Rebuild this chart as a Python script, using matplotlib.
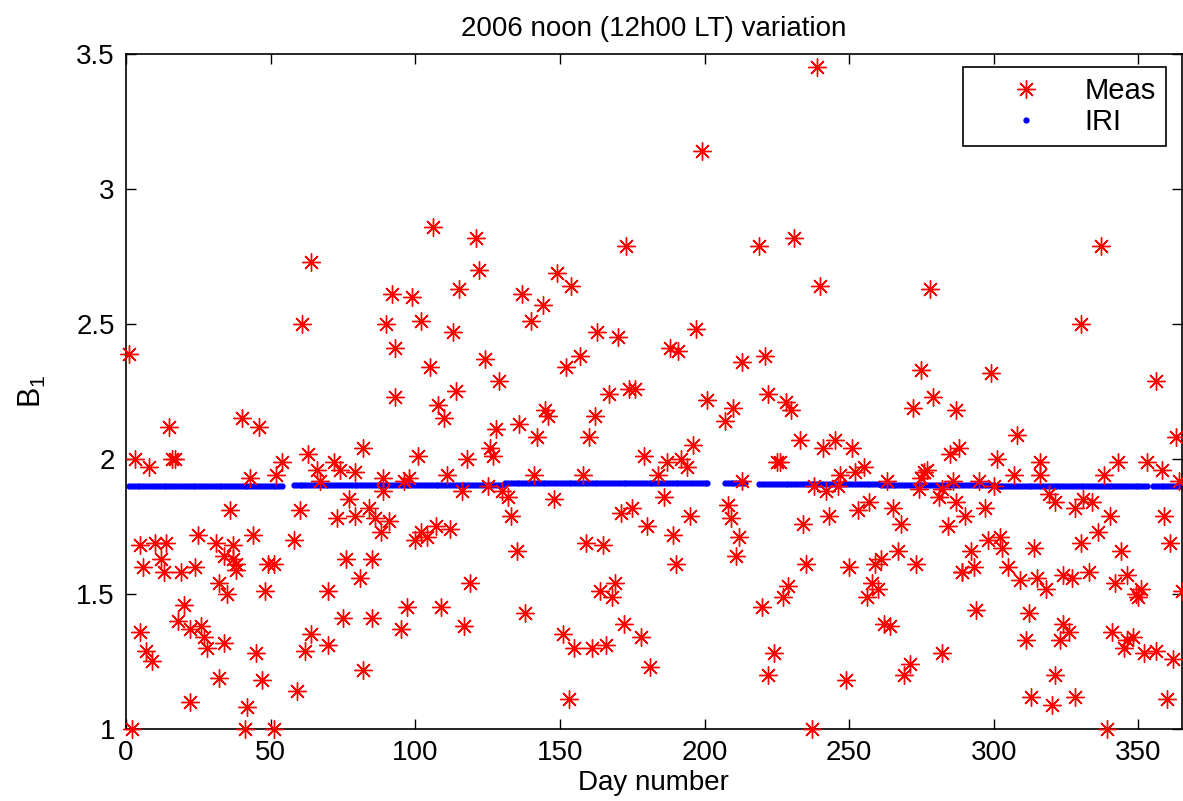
import numpy as np
import matplotlib
matplotlib.use('Agg')
import matplotlib.pyplot as plt
from matplotlib.ticker import FuncFormatter

plt.rcParams['font.family'] = ['Liberation Sans', 'DejaVu Sans']
plt.rcParams['mathtext.fontset'] = 'custom'
plt.rcParams['mathtext.rm'] = 'Liberation Sans'
plt.rcParams['mathtext.it'] = 'Liberation Sans'

# measured B1 at noon (day number, value)
meas_day = [
    1, 2, 3, 5, 5, 6, 7, 8, 9, 10, 12, 13, 14, 15, 16, 17, 18, 19, 20, 22,
    22, 24, 25, 26, 27, 28, 31, 32, 32, 34, 34, 35, 36, 37, 37, 38, 38, 40, 41, 42,
    43, 44, 45, 46, 47, 48, 49, 51, 51, 52, 54, 58, 59, 60, 61, 62, 63, 64, 64, 66,
    67, 70, 70, 72, 73, 74, 75, 76, 77, 79, 79, 81, 82, 82, 84, 85, 85, 86, 88, 89,
    89, 90, 91, 92, 93, 93, 95, 96, 97, 98,
    99, 100, 101, 102, 102, 104, 105, 106, 107, 108, 109, 110, 111, 112, 113, 114, 115, 116, 117, 118,
    119, 121, 122, 124, 125, 126, 127, 128, 129, 130, 132, 133, 135, 136, 137, 138, 140, 141, 142, 144,
    145, 146, 148, 149, 151, 152, 153, 154, 155, 157, 158, 159, 160, 161, 162, 163, 164, 165, 166, 167,
    168, 169, 170, 171, 172, 173, 174, 175, 176, 178, 179, 180, 181, 184, 186, 187, 188, 189, 190, 191,
    192, 194,
    195, 196, 197, 199, 201, 207, 208, 209, 210, 211, 212, 213, 213, 219, 220, 221, 222, 222, 224, 225,
    226, 227, 228, 229, 230, 231, 233, 234, 235, 237, 238, 239, 240, 241, 242, 243, 245, 246, 247, 249,
    250, 251, 252, 253, 255, 256, 257, 258, 259, 260, 261, 262, 263, 264, 265, 267, 268, 269, 271, 272,
    273, 274, 275, 275, 276, 277, 278, 279, 281, 282, 282, 284, 285, 286, 287, 287, 288, 289,
    290, 289, 292, 293, 294, 295, 297, 298, 299, 300, 301, 302, 303, 305, 307, 308, 309, 311, 312, 313,
    314, 315, 316, 316, 318, 319, 320, 321, 321, 323, 324, 324, 326, 327, 328, 328, 330, 330, 331, 333,
    334, 336, 337, 338, 339, 340, 341, 342, 343, 344, 345, 346, 346, 348, 349, 350, 351, 352, 353, 356,
    356, 358, 359, 360, 361, 362, 363, 364, 365,
]
meas_b1 = [
    2.39, 1.00, 2.00, 1.36, 1.68, 1.60, 1.29, 1.97, 1.25, 1.69, 1.63, 1.58, 1.69, 2.12, 2.00, 2.00, 1.40, 1.58, 1.46, 1.37,
    1.10, 1.60, 1.72, 1.38, 1.34, 1.30, 1.69, 1.54, 1.19, 1.64, 1.32, 1.50, 1.81, 1.63, 1.68, 1.61, 1.59, 2.15, 1.00, 1.08,
    1.93, 1.72, 1.28, 2.12, 1.18, 1.51, 1.61, 1.61, 1.00, 1.94, 1.99, 1.70, 1.14, 1.81, 2.50, 1.29, 2.02, 2.73, 1.35, 1.96,
    1.92, 1.31, 1.51, 1.99, 1.78, 1.96, 1.41, 1.63, 1.85, 1.95, 1.79, 1.56, 2.04, 1.22, 1.82, 1.63, 1.41, 1.78, 1.73, 1.93,
    1.88, 2.50, 1.77, 2.61, 2.41, 2.23, 1.37, 1.92, 1.45, 1.93,
    2.60, 1.70, 2.01, 2.51, 1.73, 1.71, 2.34, 2.86, 1.75, 2.20, 1.45, 2.15, 1.94, 1.74, 2.47, 2.25, 2.63, 1.88, 1.38, 2.00,
    1.54, 2.82, 2.70, 2.37, 1.90, 2.04, 2.01, 2.11, 2.29, 1.88, 1.86, 1.79, 1.66, 2.13, 2.61, 1.43, 2.51, 1.94, 2.08, 2.57,
    2.18, 2.16, 1.85, 2.69, 1.35, 2.34, 1.11, 2.64, 1.30, 2.38, 1.94, 1.69, 2.08, 1.30, 2.16, 2.47, 1.51, 1.68, 1.31, 2.24,
    1.49, 1.54, 2.45, 1.80, 1.39, 2.79, 2.26, 1.82, 2.26, 1.34, 2.01, 1.75, 1.23, 1.94, 1.86, 1.99, 2.41, 1.72, 1.61, 2.40,
    2.00, 1.97,
    1.79, 2.05, 2.48, 3.14, 2.22, 2.14, 1.83, 1.78, 2.19, 1.64, 1.71, 2.36, 1.92, 2.79, 1.45, 2.38, 2.24, 1.20, 1.28, 1.99,
    1.99, 1.49, 2.21, 1.53, 2.18, 2.82, 2.07, 1.76, 1.61, 1.00, 1.90, 3.45, 2.64, 2.04, 1.88, 1.79, 2.07, 1.90, 1.94, 1.18,
    1.60, 2.04, 1.95, 1.81, 1.97, 1.49, 1.84, 1.54, 1.61, 1.52, 1.63, 1.39, 1.92, 1.38, 1.82, 1.66, 1.76, 1.20, 1.24, 2.19,
    1.61, 1.89, 2.33, 1.93, 1.95, 1.96, 2.63, 2.23, 1.86, 1.28, 1.89, 1.75, 2.02, 1.92, 2.18, 1.84, 2.04, 1.58,
    1.79, 1.58, 1.66, 1.60, 1.44, 1.92, 1.82, 1.70, 2.32, 1.90, 2.00, 1.71, 1.67, 1.60, 1.94, 2.09, 1.55, 1.33, 1.43, 1.12,
    1.67, 1.56, 1.99, 1.94, 1.52, 1.87, 1.09, 1.84, 1.20, 1.33, 1.39, 1.57, 1.36, 1.56, 1.82, 1.12, 2.50, 1.69, 1.85, 1.58,
    1.84, 1.73, 2.79, 1.94, 1.00, 1.79, 1.36, 1.54, 1.99, 1.66, 1.30, 1.57, 1.33, 1.34, 1.50, 1.49, 1.52, 1.28, 1.99, 2.29,
    1.29, 1.96, 1.79, 1.11, 1.69, 1.26, 2.08, 1.92, 1.51,
]

# IRI model B1 (days with model output; gaps where no data)
iri_day = np.r_[1:55, 58:202, 207:215, 219:354, 355:366]
iri_b1 = [
    # days 1-54
    1.900, 1.900, 1.900, 1.900, 1.900, 1.900, 1.900, 1.900, 1.900, 1.900,
    1.900, 1.900, 1.900, 1.900, 1.900, 1.900, 1.900, 1.900, 1.900, 1.900,
    1.900, 1.900, 1.900, 1.900, 1.900, 1.900, 1.900, 1.900, 1.900, 1.900,
    1.900, 1.900, 1.900, 1.900, 1.900, 1.900, 1.900, 1.900, 1.900, 1.900,
    1.900, 1.900, 1.900, 1.900, 1.900, 1.900, 1.900, 1.900, 1.900, 1.900,
    1.900, 1.900, 1.900, 1.900,
    # days 58-90
    1.902, 1.902, 1.902, 1.902, 1.902, 1.902, 1.902, 1.902, 1.902, 1.902,
    1.902, 1.902, 1.902, 1.902, 1.902, 1.902, 1.902, 1.902, 1.902, 1.902,
    1.902, 1.902, 1.902, 1.902, 1.902, 1.902, 1.902, 1.902, 1.902, 1.902,
    1.902, 1.902, 1.902,
    # days 91-130
    1.905, 1.905, 1.905, 1.905, 1.905, 1.905, 1.905, 1.905, 1.905, 1.905,
    1.905, 1.905, 1.905, 1.905, 1.905, 1.905, 1.905, 1.905, 1.905, 1.905,
    1.905, 1.905, 1.905, 1.905, 1.905, 1.905, 1.905, 1.905, 1.905, 1.905,
    1.905, 1.905, 1.905, 1.905, 1.905, 1.905, 1.905, 1.905, 1.905, 1.905,
    # days 131-201
    1.910, 1.910, 1.910, 1.910, 1.910, 1.910, 1.910, 1.910, 1.910, 1.910,
    1.910, 1.910, 1.910, 1.910, 1.910, 1.910, 1.910, 1.910, 1.910, 1.910,
    1.910, 1.910, 1.910, 1.910, 1.910, 1.910, 1.910, 1.910, 1.910, 1.910,
    1.910, 1.910, 1.910, 1.910, 1.910, 1.910, 1.910, 1.910, 1.910, 1.910,
    1.910, 1.910, 1.910, 1.910, 1.910, 1.910, 1.910, 1.910, 1.910, 1.910,
    1.910, 1.910, 1.910, 1.910, 1.910, 1.910, 1.910, 1.910, 1.910, 1.910,
    1.910, 1.910, 1.910, 1.910, 1.910, 1.910, 1.910, 1.910, 1.910, 1.910,
    1.910,
    # days 207-214
    1.910, 1.910, 1.910, 1.910, 1.910, 1.910, 1.910, 1.910,
    # days 219-260
    1.908, 1.908, 1.908, 1.908, 1.908, 1.908, 1.908, 1.908, 1.908, 1.908,
    1.908, 1.908, 1.908, 1.908, 1.908, 1.908, 1.908, 1.908, 1.908, 1.908,
    1.908, 1.908, 1.908, 1.908, 1.908, 1.908, 1.908, 1.908, 1.908, 1.908,
    1.908, 1.908, 1.908, 1.908, 1.908, 1.908, 1.908, 1.908, 1.908, 1.908,
    1.908, 1.908,
    # days 261-300
    1.904, 1.904, 1.904, 1.904, 1.904, 1.904, 1.904, 1.904, 1.904, 1.904,
    1.904, 1.904, 1.904, 1.904, 1.904, 1.904, 1.904, 1.904, 1.904, 1.904,
    1.904, 1.904, 1.904, 1.904, 1.904, 1.904, 1.904, 1.904, 1.904, 1.904,
    1.904, 1.904, 1.904, 1.904, 1.904, 1.904, 1.904, 1.904, 1.904, 1.904,
    # days 301-353
    1.901, 1.901, 1.901, 1.901, 1.901, 1.901, 1.901, 1.901, 1.901, 1.901,
    1.901, 1.901, 1.901, 1.901, 1.901, 1.901, 1.901, 1.901, 1.901, 1.901,
    1.901, 1.901, 1.901, 1.901, 1.901, 1.901, 1.901, 1.901, 1.901, 1.901,
    1.901, 1.901, 1.901, 1.901, 1.901, 1.901, 1.901, 1.901, 1.901, 1.901,
    1.901, 1.901, 1.901, 1.901, 1.901, 1.901, 1.901, 1.901, 1.901, 1.901,
    1.901, 1.901, 1.901,
    # days 355-365
    1.900, 1.900, 1.900, 1.900, 1.900, 1.900, 1.900, 1.900, 1.900, 1.900,
    1.900,
]

xticks = [0, 50, 100, 150, 200, 250, 300, 350]
yticks = [1, 1.5, 2, 2.5, 3, 3.5]

fig = plt.figure(figsize=(11.83, 8.01), dpi=100)
ax = fig.add_axes([0.1065, 0.0899, 0.8925, 0.8427])

FS = 20
asterisk = (8, 2, 0)
ax.plot(meas_day, meas_b1, linestyle='none', marker=asterisk, ms=13, mew=1.0,
        color='red', mec='red', label='Meas', clip_on=False, zorder=3)
ax.plot(iri_day, iri_b1, linestyle='none', marker='.', ms=7,
        color='blue', label='IRI', zorder=2)

ax.set_xlim(0, 365)
ax.set_ylim(1, 3.5)
ax.set_xticks(xticks)
ax.set_yticks(yticks)
ax.yaxis.set_major_formatter(FuncFormatter(lambda v, p: '%g' % v))
ax.tick_params(direction='in', length=7, width=1.0, top=True, right=True,
               labelsize=FS, pad=8)
for s in ax.spines.values():
    s.set_linewidth(1.2)

ax.set_title('2006 noon (12h00 LT) variation', fontsize=FS, pad=13)
ax.set_xlabel('Day number', fontsize=FS, labelpad=3)
ax.set_ylabel(r'$\mathregular{B_1}$', fontsize=FS + 2, labelpad=20)

leg = ax.legend(loc='upper right', bbox_to_anchor=(0.985, 0.981), borderaxespad=0,
                fontsize=FS + 1, numpoints=1, handlelength=3.6, handletextpad=0.2,
                borderpad=0.35, labelspacing=0.1, fancybox=False, framealpha=1,
                edgecolor='black')
leg.get_frame().set_linewidth(1.2)

plt.savefig('out.png', dpi=100)
